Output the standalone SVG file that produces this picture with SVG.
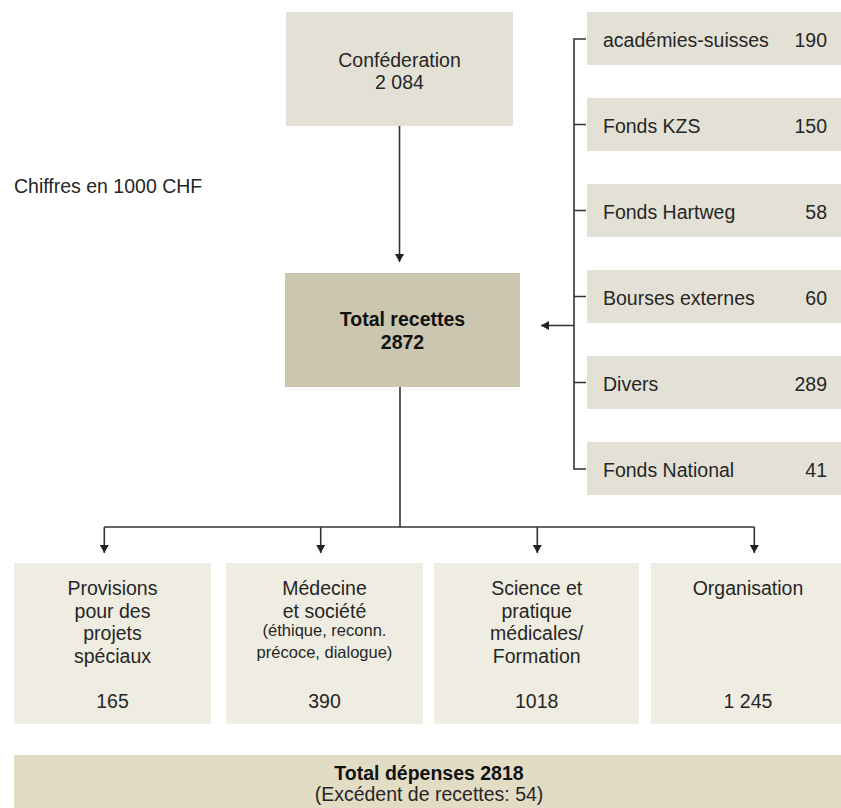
<svg xmlns="http://www.w3.org/2000/svg" width="841" height="808" viewBox="0 0 841 808">
<defs>
<style>
.t{font-family:"Liberation Sans",Arial,sans-serif;font-size:19.5px;fill:#262626}
.b{font-family:"Liberation Sans",Arial,sans-serif;font-size:19.5px;font-weight:bold;fill:#111}
.s{font-family:"Liberation Sans",Arial,sans-serif;font-size:16.5px;fill:#262626}
.c{text-anchor:middle}
.e{text-anchor:end}
.src{fill:#e3e1d6}
.tot{fill:#cbc6b0}
.exp{fill:#efede2}
.bar{fill:#e3dcc4}
.ln{fill:none;stroke:#333;stroke-width:1.6}
</style>
<marker id="ah" viewBox="0 0 8 9" refX="8" refY="4.5" markerWidth="8" markerHeight="9" markerUnits="userSpaceOnUse" orient="auto">
<path d="M0,0 L8,4.5 L0,9 z" fill="#222"/>
</marker>
</defs>
<rect width="841" height="808" fill="#fff"/>
<text class="t" x="14" y="193">Chiffres en 1000 CHF</text>

<g id="confederation">
<rect class="src" x="286" y="12" width="227" height="114"/>
<text class="t c" x="399.5" y="67">Conféderation</text>
<text class="t c" x="399.5" y="88.5">2 084</text>
</g>

<g id="total-recettes">
<rect class="tot" x="285" y="273" width="235" height="114"/>
<text class="b c" x="402.5" y="326">Total recettes</text>
<text class="b c" x="402.5" y="348.5">2872</text>
</g>

<g id="academies">
<rect class="src" x="587" y="12" width="254" height="53"/>
<text class="t" x="603" y="47">académies-suisses</text>
<text class="t e" x="827" y="47">190</text>
</g>
<g id="kzs">
<rect class="src" x="587" y="98" width="254" height="53"/>
<text class="t" x="603" y="133">Fonds KZS</text>
<text class="t e" x="827" y="133">150</text>
</g>
<g id="hartweg">
<rect class="src" x="587" y="184" width="254" height="53"/>
<text class="t" x="603" y="219">Fonds Hartweg</text>
<text class="t e" x="827" y="219">58</text>
</g>
<g id="bourses">
<rect class="src" x="587" y="270" width="254" height="53"/>
<text class="t" x="603" y="305">Bourses externes</text>
<text class="t e" x="827" y="305">60</text>
</g>
<g id="divers">
<rect class="src" x="587" y="356" width="254" height="53"/>
<text class="t" x="603" y="391">Divers</text>
<text class="t e" x="827" y="391">289</text>
</g>
<g id="fonds-national">
<rect class="src" x="587" y="442" width="254" height="53"/>
<text class="t" x="603" y="477">Fonds National</text>
<text class="t e" x="827" y="477">41</text>
</g>

<g id="provisions">
<rect class="exp" x="14" y="563" width="197" height="161"/>
<text class="t c" x="112.5" y="595">Provisions</text>
<text class="t c" x="112.5" y="617.7">pour des</text>
<text class="t c" x="112.5" y="640.3">projets</text>
<text class="t c" x="112.5" y="663">spéciaux</text>
<text class="t c" x="112.5" y="708.3">165</text>
</g>
<g id="medecine">
<rect class="exp" x="226" y="563" width="197" height="161"/>
<text class="t c" x="324.5" y="595">Médecine</text>
<text class="t c" x="324.5" y="617.7">et société</text>
<text class="s c" x="324.5" y="635.7">(éthique, reconn.</text>
<text class="s c" x="324.5" y="657.7">précoce, dialogue)</text>
<text class="t c" x="324.5" y="708.3">390</text>
</g>
<g id="science">
<rect class="exp" x="434" y="563" width="205" height="161"/>
<text class="t c" x="536.7" y="595">Science et</text>
<text class="t c" x="536.7" y="617.7">pratique</text>
<text class="t c" x="536.7" y="640.3">médicales/</text>
<text class="t c" x="536.7" y="663">Formation</text>
<text class="t c" x="536.7" y="708.3">1018</text>
</g>
<g id="organisation">
<rect class="exp" x="651" y="563" width="190" height="161"/>
<text class="t c" x="748" y="595">Organisation</text>
<text class="t c" x="748" y="708.3">1 245</text>
</g>

<g id="total-depenses">
<rect class="bar" x="14" y="755" width="827" height="53"/>
<text class="b c" x="429" y="780">Total dépenses 2818</text>
<text class="t c" x="429" y="800.5">(Excédent de recettes: 54)</text>
</g>

<g id="connectors">
<path class="ln" d="M399.5,126 V262" marker-end="url(#ah)"/>
<path class="ln" d="M586,39 H574 V469 H586"/>
<path class="ln" d="M574,124.5 H586 M574,210.5 H586 M574,296.5 H586 M574,382.5 H586"/>
<path class="ln" d="M574,325.5 H541" marker-end="url(#ah)"/>
<path class="ln" d="M400,387 V527"/>
<path class="ln" d="M104.3,527 H754.3"/>
<path class="ln" d="M104.3,527 V553" marker-end="url(#ah)"/>
<path class="ln" d="M320.7,527 V553" marker-end="url(#ah)"/>
<path class="ln" d="M537.3,527 V553" marker-end="url(#ah)"/>
<path class="ln" d="M754.3,527 V553" marker-end="url(#ah)"/>
</g>
</svg>
